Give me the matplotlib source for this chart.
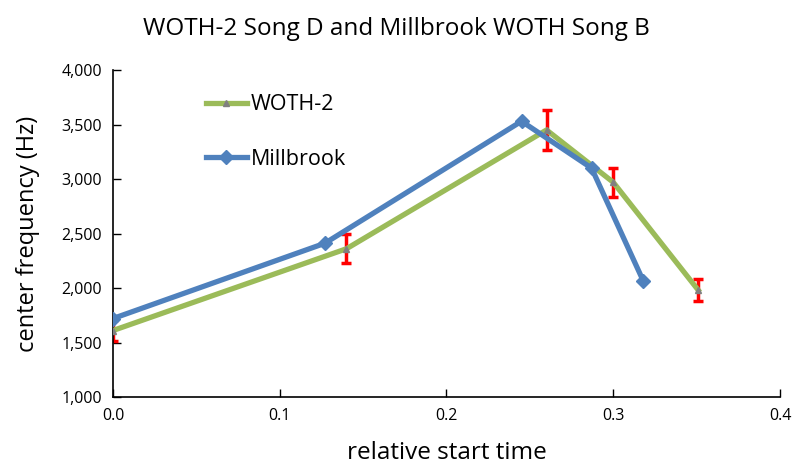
import matplotlib.pyplot as plt

# WOTH-2 song D: relative start time, center frequency, and spread
woth2_t = [0.0, 0.14, 0.26, 0.30, 0.351]
woth2_f = [1610, 2360, 3450, 2970, 1980]
woth2_err = [100, 135, 180, 135, 100]

# Millbrook WOTH song B
mill_t = [0.0, 0.127, 0.245, 0.287, 0.318]
mill_f = [1720, 2410, 3530, 3100, 2065]

x_ticks = [0.0, 0.1, 0.2, 0.3, 0.4]
y_ticks = [1000, 1500, 2000, 2500, 3000, 3500, 4000]

plt.rcParams['font.family'] = ['Open Sans', 'DejaVu Sans']

fig = plt.figure(figsize=(7.93, 4.68), dpi=100)
ax = fig.add_axes([0.1425, 0.1517, 0.8411, 0.6987])

green = '#9BBB59'
blue = '#4F81BD'

ax.errorbar(woth2_t, woth2_f, yerr=woth2_err, fmt='none', ecolor='#FF0000',
            elinewidth=2.5, capsize=3.5, capthick=2.5, zorder=2)
ax.plot(woth2_t, woth2_f, color=green, lw=3.8, marker='^', ms=4,
        mfc='#808080', mec='#808080', label='WOTH-2', zorder=3)
ax.plot(mill_t, mill_f, color=blue, lw=3.8, marker='D', ms=7.5,
        mfc=blue, mec=blue, label='Millbrook', zorder=4)

ax.set_xlim(0, 0.4)
ax.set_ylim(1000, 4000)
ax.set_xticks(x_ticks)
ax.set_xticklabels([f'{v:.1f}' for v in x_ticks])
ax.set_yticks(y_ticks)
ax.set_yticklabels([f'{v:,}' for v in y_ticks])
ax.tick_params(direction='in', length=6, width=1, labelsize=11.5, pad=8,
               colors='#000000')

for side in ('top', 'right'):
    ax.spines[side].set_visible(False)
for side in ('left', 'bottom'):
    ax.spines[side].set_color('#000000')
    ax.spines[side].set_linewidth(1.2)

ax.set_xlabel('relative start time', fontsize=17.5, labelpad=12)
ax.set_ylabel('center frequency (Hz)', fontsize=17, labelpad=15)
fig.text(0.5, 0.937, 'WOTH-2 Song D and Millbrook WOTH Song B',
         ha='center', va='center', fontsize=17.5)

ax.legend(loc='upper left', bbox_to_anchor=(0.11, 0.985), frameon=False,
          fontsize=15.5, handlelength=1.9, handletextpad=0.2, labelspacing=1.55)

fig.savefig('out.png', dpi=100)
